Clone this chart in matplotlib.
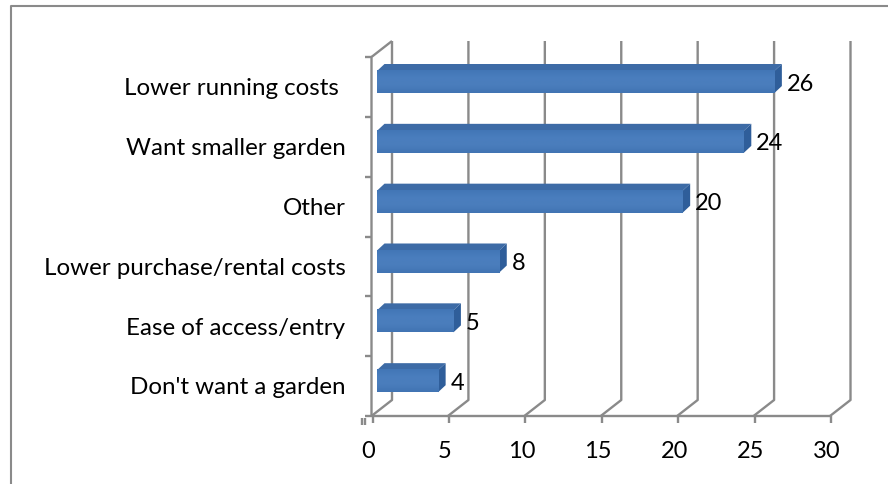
import numpy as np
import matplotlib
matplotlib.use("Agg")
import matplotlib.pyplot as plt
from matplotlib.lines import Line2D
from matplotlib.patches import Polygon

categories = ["Lower running costs ", "Want smaller garden", "Other",
              "Lower purchase/rental costs", "Ease of access/entry", "Don't want a garden"]
values = [26, 24, 20, 8, 5, 4]
x_ticks = [0, 5, 10, 15, 20, 25, 30]

W, H = 888, 484
GRAY = "#8a8a8a"
plt.rcParams['font.family'] = ['Lato', 'DejaVu Sans']

fig = plt.figure(figsize=(W / 100, H / 100), dpi=100, facecolor="white")
L, R, T, B = 371.5, 830, 57, 416
ax = fig.add_axes([L / W, 1 - B / H, (R - L) / W, (B - T) / H])
ax.set_xlim(0, 30)
ax.set_ylim(6, 0)
ax.axis("off")

ux = (R - L) / 30
uy = (B - T) / 6
wall_dx, wall_dy = 20.5 / ux, 16 / uy
bar_dx, bar_dy = 7.5 / ux, 7 / uy
bar_x0 = 5.5 / ux
bar_top, bar_bot = 0.234, 0.602

kw = dict(color=GRAY, lw=1.7, clip_on=False, solid_capstyle="butt", zorder=1)
# back wall gridlines with floor diagonals
for t in x_ticks:
    ax.plot([t, t + wall_dx, t + wall_dx], [6, 6 - wall_dy, -wall_dy], **kw)
# tick marks below the floor
for t in x_ticks:
    ax.plot([t + 1 / ux, t + 1 / ux], [6, 6 + 7.5 / uy], **kw)
# left wall and floor
ax.plot([0, 0, wall_dx], [6, 0, -wall_dy], **kw)
ax.plot([0, 30], [6, 6], **kw)
for i in range(7):
    ax.plot([-7 / ux, 0], [i, i], **kw)
ax.plot([-10 / ux, -10 / ux], [6 + 2 / uy, 6 + 9 / uy], **kw)
ax.plot([-7 / ux, -7 / ux], [6 + 2 / uy, 6 + 9 / uy], **kw)

grad = np.linspace(0, 1, 64).reshape(-1, 1)
cmap = matplotlib.colors.LinearSegmentedColormap.from_list(
    "bar", ["#4276b6", "#4a7ebe", "#4a7dbc", "#4174b3"])
for i, v in enumerate(values):
    x1 = bar_x0 + v
    y0, y1 = i + bar_top, i + bar_bot
    ax.add_patch(Polygon([[bar_x0, y0], [bar_x0 + bar_dx, y0 - bar_dy],
                          [x1 + bar_dx, y0 - bar_dy], [x1, y0]],
                         fc="#3d6ba6", ec="none", zorder=3, clip_on=False))
    ax.add_patch(Polygon([[x1, y0], [x1 + bar_dx, y0 - bar_dy],
                          [x1 + bar_dx, y1 - bar_dy], [x1, y1]],
                         fc="#2f5e9a", ec="none", zorder=3, clip_on=False))
    im = ax.imshow(grad, extent=[bar_x0, x1, y1, y0], cmap=cmap, aspect="auto", zorder=3)
    im.set_clip_on(False)
    ax.text(x1 + bar_dx + 5 / ux, (y0 + y1) / 2 + 2 / uy, str(v),
            fontsize=17, color="black", ha="left", va="center", zorder=4, clip_on=False)
    ax.text(-26 / ux, i + 0.53, categories[i], fontsize=17.4, color="black",
            ha="right", va="center", clip_on=False)
ax.set_xlim(0, 30)
ax.set_ylim(6, 0)

for t in x_ticks:
    ax.text(t - 3 / ux, 6 + 35 / uy, str(t), fontsize=17, color="black",
            ha="center", va="center", clip_on=False)

# outer chart frame
fig.add_artist(Line2D([10.5 / W, 10.5 / W, 888 / W], [0, 1 - 5.5 / H, 1 - 5.5 / H],
                      color=GRAY, lw=1.5, transform=fig.transFigure))
fig.savefig("out.png", dpi=100)
